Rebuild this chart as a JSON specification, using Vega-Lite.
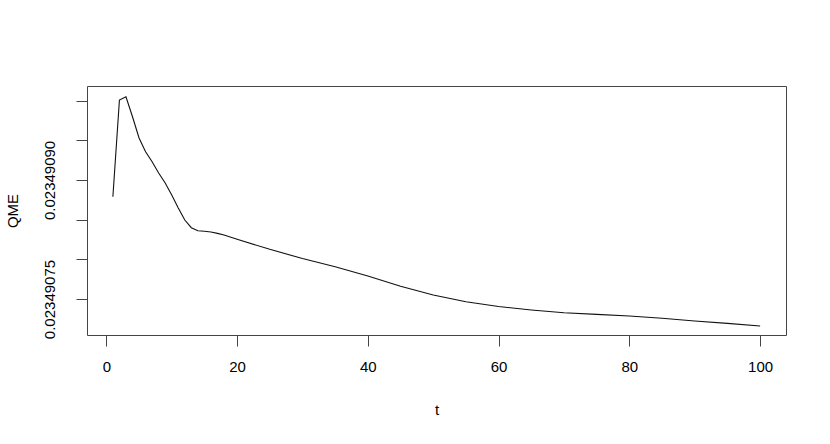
{
  "$schema": "https://vega.github.io/schema/vega-lite/v6.json",
  "width": 699,
  "height": 249,
  "autosize": {"type": "none"},
  "padding": {"left": 87, "top": 86, "right": 44, "bottom": 109},
  "background": "white",
  "config": {
    "view": {"stroke": "#444", "strokeWidth": 1},
    "font": "Liberation Sans"
  },
  "data": {
    "values": [
      {"t": 1, "QME": 0.0234908788},
      {"t": 2, "QME": 0.0234910006},
      {"t": 3, "QME": 0.0234910048},
      {"t": 4, "QME": 0.0234909796},
      {"t": 5, "QME": 0.0234909528},
      {"t": 6, "QME": 0.0234909355},
      {"t": 7, "QME": 0.0234909229},
      {"t": 8, "QME": 0.0234909087},
      {"t": 9, "QME": 0.0234908961},
      {"t": 10, "QME": 0.023490881},
      {"t": 11, "QME": 0.0234908646},
      {"t": 12, "QME": 0.0234908495},
      {"t": 13, "QME": 0.0234908398},
      {"t": 14, "QME": 0.023490836},
      {"t": 15, "QME": 0.0234908353},
      {"t": 16, "QME": 0.0234908344},
      {"t": 17, "QME": 0.0234908327},
      {"t": 18, "QME": 0.0234908306},
      {"t": 20, "QME": 0.0234908252},
      {"t": 25, "QME": 0.0234908126},
      {"t": 30, "QME": 0.023490801},
      {"t": 35, "QME": 0.0234907907},
      {"t": 40, "QME": 0.0234907790},
      {"t": 45, "QME": 0.0234907660},
      {"t": 50, "QME": 0.023490755},
      {"t": 55, "QME": 0.0234907466},
      {"t": 60, "QME": 0.0234907406},
      {"t": 65, "QME": 0.0234907362},
      {"t": 70, "QME": 0.0234907327},
      {"t": 75, "QME": 0.0234907307},
      {"t": 80, "QME": 0.0234907286},
      {"t": 85, "QME": 0.0234907257},
      {"t": 90, "QME": 0.0234907223},
      {"t": 95, "QME": 0.0234907194},
      {"t": 100, "QME": 0.023490716}
    ]
  },
  "mark": {"type": "line", "color": "#111", "strokeWidth": 1.1},
  "encoding": {
    "x": {
      "field": "t",
      "type": "quantitative",
      "scale": {"domain": [-2.96, 103.96], "nice": false, "zero": false},
      "axis": {
        "values": [0, 20, 40, 60, 80, 100],
        "domain": false,
        "grid": false,
        "tickSize": 11,
        "tickColor": "#444",
        "labelFontSize": 15,
        "labelColor": "#000",
        "labelPadding": 13,
        "labelFlush": false,
        "title": "t",
        "titleFontSize": 15,
        "titleFontWeight": "normal",
        "titleColor": "#000",
        "titlePadding": 28
      }
    },
    "y": {
      "field": "QME",
      "type": "quantitative",
      "scale": {"domain": [0.0234907047, 0.0234910183], "nice": false, "zero": false},
      "axis": {
        "values": [0.02349075, 0.0234908, 0.02349085, 0.0234909, 0.02349095, 0.023491],
        "labelExpr": "abs(datum.value - 0.02349075) < 1e-11 ? '0.02349075' : (abs(datum.value - 0.0234909) < 1e-11 ? '0.02349090' : '')",
        "domain": false,
        "grid": false,
        "tickSize": 11,
        "tickColor": "#444",
        "labelFontSize": 15,
        "labelColor": "#000",
        "labelAngle": -90,
        "labelAlign": "center",
        "labelBaseline": "bottom",
        "labelPadding": 19,
        "labelOverlap": false,
        "labelFlush": false,
        "title": "QME",
        "titleFontSize": 15,
        "titleFontWeight": "normal",
        "titleColor": "#000",
        "titlePadding": 22
      }
    }
  }
}
